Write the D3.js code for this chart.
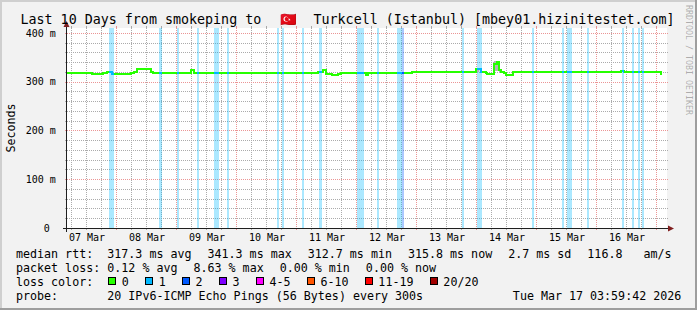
<!DOCTYPE html>
<meta charset="utf-8">
<style>
body { margin: 0; background: #f2f2f2; }
svg { display: block; font-family: "DejaVu Sans Mono", monospace; }
text { white-space: pre; }
.legend text { font-size: 11.66px; }
.hgrid .domain { display: none; }
.hgrid line { stroke: #ababab; stroke-dasharray: 1 1; }
.hgrid .major line { stroke: #eb9595; }
</style>
<svg width="697" height="310"></svg>
<script src="https://cdn.jsdelivr.net/npm/d3@7"></script>
<script>

var parse = d3.utcParse("%Y-%m-%d %H:%M");

var startTime = new Date(Date.UTC(2026, 2, 7, 3, 59, 42)),
    endTime = new Date(Date.UTC(2026, 2, 17, 3, 59, 42));

// median rtt (ms), step values
var rttTimes = ["2026-03-07 04:00","2026-03-07 14:00","2026-03-07 18:24","2026-03-07 20:00","2026-03-07 21:50",
  "2026-03-08 05:36","2026-03-08 06:55","2026-03-08 08:00","2026-03-08 13:36","2026-03-08 14:31",
  "2026-03-09 05:36","2026-03-09 06:48",
  "2026-03-11 08:31","2026-03-11 10:17","2026-03-11 11:36","2026-03-11 14:00","2026-03-11 16:17","2026-03-11 17:36",
  "2026-03-12 03:29","2026-03-12 04:17","2026-03-12 22:00",
  "2026-03-13 23:36","2026-03-14 00:55","2026-03-14 01:36","2026-03-14 03:36","2026-03-14 04:00","2026-03-14 06:41",
  "2026-03-14 08:00","2026-03-14 08:41","2026-03-14 09:36","2026-03-14 10:48","2026-03-14 11:36","2026-03-14 14:24",
  "2026-03-16 09:36","2026-03-16 10:48","2026-03-17 01:24","2026-03-17 02:00"];
var rttValues = [317.5, 315, 317.5, 320, 315,
  317.5, 320, 325, 320, 317.5,
  323, 317.5,
  320, 323, 316, 314.5, 316, 317.5,
  314.5, 317.5, 319,
  326, 325, 320, 317, 316, 336,
  341.3, 323, 320, 317, 314, 319,
  321.5, 319, 316, 316];

// smoke (spread of the pings) where it is visible
var smokeStart = ["2026-03-13 23:36", "2026-03-14 06:41", "2026-03-14 08:41"];
var smokeEnd   = ["2026-03-14 00:55", "2026-03-14 08:41", "2026-03-14 10:00"];
var smokeLow   = [319, 322, 318];
var smokeHigh  = [328, 342, 326];

// packet loss periods (number of lost pings out of 20)
var lossStart = ["2026-03-07 20:48","2026-03-08 16:48","2026-03-08 23:53","2026-03-09 08:00","2026-03-09 14:48",
  "2026-03-09 20:00","2026-03-10 16:00","2026-03-10 17:53","2026-03-11 02:00","2026-03-11 08:48",
  "2026-03-12 00:00","2026-03-12 08:00","2026-03-12 16:07","2026-03-12 17:53","2026-03-13 18:00",
  "2026-03-14 00:00","2026-03-14 22:00","2026-03-15 10:00","2026-03-15 11:53","2026-03-15 20:00",
  "2026-03-16 10:00","2026-03-16 14:00","2026-03-16 16:17","2026-03-16 17:53"];
var lossEnd = ["2026-03-07 22:48","2026-03-08 18:00","2026-03-09 00:48","2026-03-09 08:48","2026-03-09 16:48",
  "2026-03-09 20:48","2026-03-10 16:55","2026-03-10 18:41","2026-03-11 02:48","2026-03-11 09:53",
  "2026-03-12 02:48","2026-03-12 08:48","2026-03-12 17:53","2026-03-12 18:48","2026-03-13 18:48",
  "2026-03-14 02:07","2026-03-14 22:48","2026-03-15 10:48","2026-03-15 14:00","2026-03-15 20:48",
  "2026-03-16 10:48","2026-03-16 14:48","2026-03-16 17:05","2026-03-16 18:48"];
var lossLevel = [1,1,1,1,1, 1,1,1,1,1, 1,1,1,2,1, 1,1,1,1,1, 1,1,1,1];

var lossLabels = ["0", "1", "2", "3", "4-5", "6-10", "11-19", "20/20"];
var lossColors = ["#26ff00", "#00b8ff", "#0059ff", "#7e00ff", "#ff00ff", "#ff5500", "#ff0000", "#a10000"];

var yTicks = [0, 100, 200, 300, 400];

var rttStats = ["317.3 ms avg", "341.3 ms max", "312.7 ms min", "315.8 ms now", "2.7 ms sd", "116.8   am/s"];
var lossStats = ["0.12 % avg", "8.63 % max", "0.00 % min", "0.00 % now"];
var probeText = "20 IPv6-ICMP Echo Pings (56 Bytes) every 300s";
var stampText = "Tue Mar 17 03:59:42 2026";
var titleParts = ["Last 10 Days from smokeping to ", "\u{1F1F9}\u{1F1F7}", " Turkcell (Istanbul) [mbey01.hizinitestet.com]"];

var svg = d3.select("svg"),
    W = +svg.attr("width"), H = +svg.attr("height"),
    plotL = 67, plotR = 667, plotT = 28, plotB = 228;

var x = d3.scaleUtc().domain([startTime, endTime]).range([plotL, plotR]),
    y = d3.scaleLinear().domain([0, 410]).range([plotB, plotT]);

var rtt = rttTimes.map(function(t, i) { return {date: parse(t), value: rttValues[i]}; });
var loss = lossStart.map(function(s, i) { return {start: parse(s), end: parse(lossEnd[i]), level: lossLevel[i]}; });

var gridColor = "rgba(143,143,143,0.75)", mgridColor = "rgba(222,79,79,0.6)";

// background + canvas
svg.append("rect").attr("width", W).attr("height", H).attr("fill", "#f2f2f2");
svg.append("rect").attr("x", plotL).attr("y", plotT).attr("width", plotR - plotL).attr("height", plotB - plotT).attr("fill", "#fff");

// vertical grid: minor every 6h, major at midnight (dotted)
var grid = svg.append("g").attr("shape-rendering", "crispEdges");
d3.utcHour.every(6).range(startTime, endTime).forEach(function(d) {
  var major = d.getUTCHours() === 0, X = Math.round(x(d)) - 0.5;
  grid.append("path")
    .attr("d", "M" + X + "," + plotT + "V" + plotB)
    .attr("stroke", major ? mgridColor : gridColor)
    .attr("stroke-dasharray", "1 1");
  grid.append("path")
    .attr("d", "M" + X + "," + (plotT - 2) + "V" + plotT + "M" + X + "," + plotB + "V" + (plotB + 2))
    .attr("stroke", major ? mgridColor : gridColor);
});

// horizontal grid: minor every 20 ms, major every 100 ms
var hgrid = svg.append("g")
    .attr("class", "hgrid")
    .attr("transform", "translate(" + (plotL - 2) + ",0.5)")
    .attr("shape-rendering", "crispEdges")
    .call(d3.axisRight(y).tickValues(d3.range(20, 410, 20)).tickSize(plotR - plotL + 4).tickFormat(""));
hgrid.selectAll(".tick")
    .classed("major", function(d) { return d % 100 === 0; })
    .attr("transform", function(d) { return "translate(0," + Math.round(y(d)) + ")"; });

// loss background bars
svg.append("g").selectAll("rect")
  .data(loss)
  .enter().append("rect")
    .attr("x", function(d) { return Math.round(x(d.start)); })
    .attr("width", function(d) { return Math.max(1, Math.round(x(d.end)) - Math.round(x(d.start))); })
    .attr("y", plotT)
    .attr("height", plotB - plotT)
    .attr("fill", function(d) { return lossColors[d.level]; })
    .attr("fill-opacity", 0.33)
    .attr("shape-rendering", "crispEdges");

// smoke
svg.append("g").selectAll("rect")
  .data(smokeStart.map(function(s, i) { return {start: parse(s), end: parse(smokeEnd[i]), lo: smokeLow[i], hi: smokeHigh[i]}; }))
  .enter().append("rect")
    .attr("x", function(d) { return x(d.start); })
    .attr("width", function(d) { return x(d.end) - x(d.start); })
    .attr("y", function(d) { return y(d.hi); })
    .attr("height", function(d) { return y(d.lo) - y(d.hi); })
    .attr("fill", "#b4b4b4")
    .attr("shape-rendering", "crispEdges");

// median line, green, recoloured inside loss periods
var line = d3.line()
    .curve(d3.curveStepAfter)
    .x(function(d) { return x(d.date); })
    .y(function(d) { return y(d.value); });

svg.append("path")
    .datum(rtt)
    .attr("d", line)
    .attr("fill", "none")
    .attr("stroke", lossColors[0])
    .attr("stroke-width", 2)
    .attr("shape-rendering", "crispEdges");

var defs = svg.append("defs");
loss.forEach(function(d, i) {
  defs.append("clipPath").attr("id", "loss" + i)
    .append("rect")
      .attr("x", Math.round(x(d.start))).attr("width", Math.max(1, Math.round(x(d.end)) - Math.round(x(d.start))))
      .attr("y", plotT).attr("height", plotB - plotT);
  svg.append("path")
      .datum(rtt)
      .attr("d", line)
      .attr("clip-path", "url(#loss" + i + ")")
      .attr("fill", "none")
      .attr("stroke", lossColors[d.level])
      .attr("stroke-width", 2)
      .attr("shape-rendering", "crispEdges");
});

// axes with arrows
var axisColor = "#1f1f1f", arrowColor = "#801f1f";
svg.append("rect").attr("x", plotL - 4).attr("y", plotB).attr("width", plotR - plotL + 7).attr("height", 1)
  .attr("fill", axisColor).attr("shape-rendering", "crispEdges");
svg.append("rect").attr("x", plotL - 1).attr("y", plotT - 3).attr("width", 1).attr("height", plotB - plotT + 7)
  .attr("fill", axisColor).attr("shape-rendering", "crispEdges");
svg.append("path").attr("d", "M" + (plotR + 7) + "," + (plotB + 0.5) + "L" + (plotR + 1) + "," + (plotB - 2.5) + "L" + (plotR + 1) + "," + (plotB + 3.5) + "Z")
  .attr("fill", arrowColor);
svg.append("path").attr("d", "M" + (plotL - 0.5) + "," + (plotT - 7) + "L" + (plotL - 3.5) + "," + (plotT - 1) + "L" + (plotL + 2.5) + "," + (plotT - 1) + "Z")
  .attr("fill", arrowColor);

// axis labels
var days = d3.utcDay.range(d3.utcDay.floor(startTime), endTime)
  .map(function(d) { return d3.utcHour.offset(d, 12); })
  .filter(function(d) { return d < endTime; });
var fmt = d3.utcFormat("%d %b");
svg.append("g").selectAll("text")
  .data(days)
  .enter().append("text")
    .attr("x", function(d) { return x(d); })
    .attr("y", 240.7)
    .attr("text-anchor", "middle")
    .style("font-size", "10px")
    .text(function(d) { return fmt(d); });

svg.append("g").selectAll("text")
  .data(yTicks)
  .enter().append("text")
    .attr("x", 55.8)
    .attr("y", function(d) { return y(d) + 3.8; })
    .attr("text-anchor", "end")
    .style("font-size", "10px")
    .text(function(d) { return d === 0 ? "0 " : d + " m"; });

svg.append("text")
    .attr("transform", "translate(14.5," + ((plotT + plotB) / 2) + ") rotate(-90)")
    .attr("text-anchor", "middle")
    .style("font-size", "11.66px")
    .text("Seconds");

// title
var title = svg.append("text").attr("y", 23.5).style("font-size", "13.33px");
title.append("tspan").attr("x", 20.5).text(titleParts[0]);
title.append("tspan").attr("x", 288).attr("text-anchor", "middle").text(titleParts[1]);
title.append("tspan").attr("x", 305.5).text(titleParts[2]);

// watermark
svg.append("text")
    .attr("transform", "translate(685.5,5) rotate(90)")
    .style("font-size", "8.3px")
    .attr("fill", "#000")
    .attr("fill-opacity", 0.3)
    .text("RRDTOOL / TOBI OETIKER");

// legend
var leg = svg.append("g").attr("class", "legend");
var rows = [257.6, 271.8, 285.9, 300];
leg.append("text").attr("x", 16).attr("y", rows[0]).text("median rtt:");
leg.append("text").attr("x", 16).attr("y", rows[1]).text("packet loss:");
leg.append("text").attr("x", 16).attr("y", rows[2]).text("loss color:");
leg.append("text").attr("x", 16).attr("y", rows[3]).text("probe:");

function itemRow(items, yy) {
  var cx = 107.3;
  items.forEach(function(s) {
    var t = leg.append("text").attr("x", cx).attr("y", yy).text(s);
    cx += t.node().getComputedTextLength() + 16;
  });
}
itemRow(rttStats, rows[0]);
itemRow(lossStats, rows[1]);

var bx = 108.3;
lossLabels.forEach(function(s, i) {
  leg.append("rect").attr("x", Math.round(bx) + 0.5).attr("y", rows[2] - 8).attr("width", 7).attr("height", 7)
    .attr("fill", lossColors[i]).attr("stroke", "#000").attr("shape-rendering", "crispEdges");
  var t = leg.append("text").attr("x", bx + 13.4).attr("y", rows[2]).text(s);
  bx += 13.4 + t.node().getComputedTextLength() + 16.5;
});

leg.append("text").attr("x", 107.3).attr("y", rows[3]).text(probeText);
leg.append("text").attr("x", 681.3).attr("y", rows[3]).attr("text-anchor", "end").text(stampText);

// 3d frame
svg.append("path").attr("d", "M0,1H" + (W - 1) + "M1,0V" + (H - 1)).attr("stroke", "#cfcfcf").attr("stroke-width", 2);
svg.append("path").attr("d", "M0," + (H - 1) + "H" + W + "M" + (W - 1) + ",0V" + H).attr("stroke", "#9e9e9e").attr("stroke-width", 2);

</script>
